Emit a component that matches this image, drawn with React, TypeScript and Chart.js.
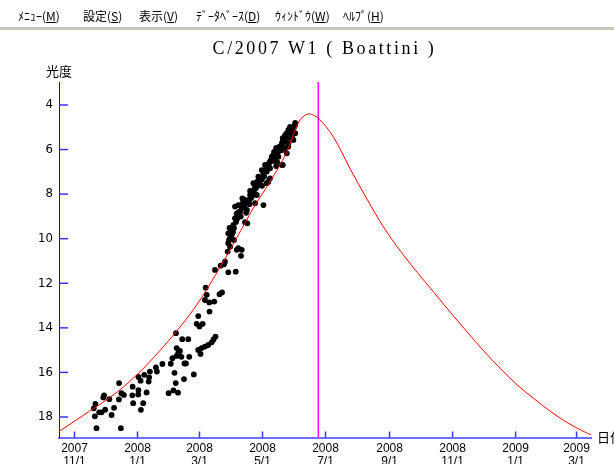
import React, { useEffect, useRef } from "react";
import { Chart, registerables } from "chart.js";

Chart.register(...registerables);

// ---- text ----
const titleText = "C/2007 W1 ( Boattini )";
const yAxisLabel = "光度";
const xAxisLabel = "日付";
const menuNames = ["ﾒﾆｭｰ", "設定", "表示", "ﾃﾞｰﾀﾍﾞｰｽ", "ｳｨﾝﾄﾞｳ", "ﾍﾙﾌﾟ"];
const menuKeys = ["M", "S", "V", "D", "W", "H"];

// ---- axes (x = days since 2007-11-01, y = magnitude) ----
const xMin = -15;
const xMax = 500;
const yMin = 2.97;
const yMax = 18.92;
const xTickDays = [0, 61, 121, 182, 243, 305, 366, 427, 486];
const xTickYears = ["2007", "2008", "2008", "2008", "2008", "2008", "2008", "2009", "2009"];
const xTickDates = ["11/1", "1/1", "3/1", "5/1", "7/1", "9/1", "11/1", "1/1", "3/1"];
const yTickValues = [4, 6, 8, 10, 12, 14, 16, 18];
const perihelionDay = 236;

// ---- predicted light curve ----
const curveDays = [-15, 10, 41.5, 64.8, 81.7, 98.9, 115, 128, 144.1, 157.1, 173.1, 189.3, 205.5, 213.6, 218.4, 222.3, 227.1, 232, 236.2, 250.7, 266.9, 283.1, 299.2, 315.4, 331.6, 347.7, 363.8, 380.0, 396.1, 412.3, 428.5, 444.6, 460.8, 477.0, 496.4, 500];
const curveMags = [18.65, 17.88, 16.87, 15.91, 15.07, 14.15, 13.19, 12.28, 11.03, 9.96, 8.63, 7.44, 6.10, 5.12, 4.67, 4.49, 4.40, 4.47, 4.60, 5.44, 6.87, 8.22, 9.48, 10.55, 11.50, 12.40, 13.30, 14.18, 15.03, 15.83, 16.56, 17.17, 17.75, 18.25, 18.73, 18.80];

// ---- observations ----
const obsDays = [
  21.3, 44.9, 19.7, 20.2, 18.7, 23.9, 26.2, 29.7, 35.9, 38.3,
  28.6, 27.9, 33.7, 43.0, 43.2, 45.4, 47.8, 56.3, 56.0, 56.8,
  61.9, 64.0, 61.9, 61.7, 67.5, 66.5, 64.3, 69.8, 71.8, 72.3,
  73.0, 78.8, 79.8, 85.1, 91.1, 95.8, 100.2, 98.0, 96.8, 93.2,
  94.8, 98.9, 100.4, 103.5, 106.5, 106.0, 115.5, 102.1, 98.9, 104.3,
  110.1, 98.2, 107.9, 111.1, 119.8, 122.0, 123.1, 126.3, 129.5, 132.8,
  134.6, 136.5, 119.8, 118.3, 121.0, 124.1, 130.7, 126.3, 128.0, 127.0,
  130.5, 135.3, 140.4, 142.8, 136.0, 141.5, 144.7, 148.9, 156.1, 148.3,
  150.6, 157.1, 161.9, 161.2, 145.7, 158.6, 148.9, 150.6, 148.9, 152.2,
  153.8, 150.1, 155.4, 157.1, 158.6, 155.4, 158.6, 161.9, 160.3, 160.9,
  165.1, 167.3, 162.5, 169.3, 174.8, 182.9, 176.5, 173.2, 174.8, 173.2,
  177.0, 179.7, 181.3, 178.0, 182.9, 181.3, 186.1, 189.3, 187.7, 189.3,
  192.5, 191.0, 192.5, 194.2, 197.4, 200.7, 187.7, 189.3, 186.1, 197.4,
  200.7, 200.7, 203.9, 201.6, 203.9, 205.5, 208.7, 207.1, 210.4, 213.6,
  210.4, 211.9, 207.1, 205.5, 203.9, 213.6, 201.6, 194.2, 183.6, 170.0,
  165.1, 167.0, 170.9, 184.5, 196.1, 198.1, 202.0, 208.2, 211.0, 166.1,
  154.4, 152.5, 164.1, 195.2, 208.7,
  149.6, 151.6, 153.5, 154.4, 156.4, 157.4, 159.3, 161.2, 163.2, 166.1,
  169.0, 171.9, 173.9, 175.8, 177.7, 178.7, 181.6, 183.6, 185.5, 187.4,
  188.4, 190.3, 192.3, 193.2, 196.1, 199.0, 200.9, 202.9, 204.8, 207.7,
  210.6, 212.6, 213.6, 206.8, 195.2, 181.6, 170.0, 164.2
];
const obsMags = [
  18.50, 18.50, 17.97, 17.41, 17.61, 17.79, 17.79, 17.67, 17.91, 17.59,
  17.03, 17.12, 17.20, 17.21, 16.48, 16.93, 17.01, 16.64, 17.03, 17.38,
  16.20, 16.37, 16.79, 16.99, 16.11, 17.38, 17.68, 16.90, 16.41, 16.22,
  15.96, 15.78, 15.96, 15.62, 16.93, 16.81, 16.91, 16.48, 16.02, 15.61,
  15.36, 15.26, 15.14, 15.30, 15.60, 16.30, 16.09, 15.04, 14.91, 14.51,
  14.51, 14.24, 15.60, 15.30, 14.99, 15.17, 14.91, 14.84, 14.77, 14.65,
  14.52, 14.39, 13.47, 13.82, 13.94, 13.82, 13.27, 12.75, 12.52, 12.20,
  12.86, 12.82, 12.49, 12.41, 11.40, 11.21, 11.15, 11.51, 11.48, 10.58,
  10.36, 10.50, 10.50, 10.77, 11.03, 10.43, 10.20, 9.98, 9.76, 9.61,
  9.38, 9.52, 9.08, 8.86, 8.93, 8.56, 8.49, 8.63, 8.79, 9.01,
  9.26, 9.31, 8.19, 8.45, 8.41, 8.49, 8.04, 7.89, 7.67, 7.51,
  7.44, 7.59, 7.36, 7.22, 7.06, 6.92, 6.99, 6.84, 6.69, 6.54,
  6.39, 6.32, 6.24, 6.17, 6.32, 6.69, 7.44, 7.29, 7.51, 6.09,
  6.02, 5.79, 5.65, 5.49, 5.35, 5.27, 5.20, 5.12, 5.05, 4.90,
  5.42, 5.57, 5.72, 6.17, 5.94, 5.27, 6.69, 6.47, 7.21, 8.04,
  8.26, 8.71, 8.17, 6.69, 6.56, 5.88, 5.61, 5.48, 5.21, 8.84,
  10.06, 9.79, 8.26, 5.93, 4.99,
  10.06, 9.88, 9.70, 9.52, 9.25, 9.11, 8.80, 8.49, 8.35, 8.40,
  8.26, 8.08, 7.81, 7.72, 7.59, 7.36, 7.23, 7.01, 6.87, 6.83,
  6.60, 6.47, 6.51, 6.11, 6.20, 5.93, 5.70, 5.48, 5.39, 5.30,
  5.12, 4.99, 4.81, 5.88, 6.74, 7.63, 7.86, 8.58
];

const innerTicks = {
  id: "innerTicks",
  afterDraw(chart: any) {
    const { ctx, chartArea, scales } = chart;
    ctx.save();
    ctx.strokeStyle = "#3535ff";
    ctx.lineWidth = 1.5;
    scales.y.ticks.forEach((t: any) => {
      const y = scales.y.getPixelForValue(t.value);
      ctx.beginPath();
      ctx.moveTo(chartArea.left, y);
      ctx.lineTo(chartArea.left + 9, y);
      ctx.stroke();
    });
    scales.x.ticks.forEach((t: any) => {
      const x = scales.x.getPixelForValue(t.value);
      ctx.beginPath();
      ctx.moveTo(x, chartArea.bottom);
      ctx.lineTo(x, chartArea.bottom - 6);
      ctx.stroke();
    });
    ctx.restore();
  },
};

export default function App() {
  const ref = useRef<HTMLCanvasElement | null>(null);

  useEffect(() => {
    if (!ref.current) return;
    const chart = new Chart(ref.current, {
      type: "scatter",
      data: {
        datasets: [
          {
            type: "line",
            label: "予報",
            data: curveDays.map((d, i) => ({ x: d, y: curveMags[i] })),
            borderColor: "#ff0000",
            borderWidth: 1,
            pointRadius: 0,
            pointHoverRadius: 0,
            cubicInterpolationMode: "monotone",
            fill: false,
            order: 0,
          } as any,
          {
            type: "line",
            label: "近日点",
            data: [
              { x: perihelionDay, y: yMin },
              { x: perihelionDay, y: yMax },
            ],
            borderColor: "#ff00ff",
            borderWidth: 1.5,
            pointRadius: 0,
            pointHoverRadius: 0,
            fill: false,
            order: 1,
          } as any,
          {
            type: "scatter",
            label: "観測",
            data: obsDays.map((d, i) => ({ x: d, y: obsMags[i] })),
            backgroundColor: "#000000",
            borderWidth: 0,
            pointRadius: 2.9,
            pointHoverRadius: 2.9,
            order: 2,
          } as any,
        ],
      },
      options: {
        animation: false,
        responsive: false,
        maintainAspectRatio: false,
        layout: { padding: { top: 82, right: 23, left: 0, bottom: 0 } },
        plugins: {
          legend: { display: false },
          tooltip: { enabled: false },
          title: { display: false },
        },
        scales: {
          x: {
            type: "linear",
            min: xMin,
            max: xMax,
            afterBuildTicks: (s: any) => {
              s.ticks = xTickDays.map((v) => ({ value: v }));
            },
            afterFit: (s: any) => {
              s.height = 26.5;
            },
            grid: { display: false, drawTicks: false },
            border: { display: true, color: "#6f6fff", width: 2 },
            ticks: {
              autoSkip: false,
              maxRotation: 0,
              minRotation: 0,
              padding: 5,
              color: "#000000",
              font: { family: "'Liberation Sans', Arial, sans-serif", size: 12, lineHeight: 1.05 },
              callback: (v: any) => {
                const i = xTickDays.indexOf(Number(v));
                return [xTickYears[i], xTickDates[i]];
              },
            },
          },
          y: {
            type: "linear",
            reverse: true,
            min: yMin,
            max: yMax,
            afterBuildTicks: (s: any) => {
              s.ticks = yTickValues.map((v) => ({ value: v }));
            },
            afterFit: (s: any) => {
              s.width = 59;
            },
            grid: { display: false, drawTicks: false },
            border: { display: true, color: "#0000ff", width: 1 },
            ticks: {
              padding: 6,
              color: "#000000",
              font: { family: "'Liberation Sans Narrow', 'DejaVu Sans Condensed', sans-serif", size: 13 },
              callback: (v: any) => String(v),
            },
          },
        },
      },
      plugins: [innerTicks],
    });
    return () => chart.destroy();
  }, []);

  return (
    <div
      style={{
        position: "fixed",
        left: 0,
        top: 0,
        width: 614,
        height: 464,
        background: "#ffffff",
        overflow: "hidden",
      }}
    >
      <canvas
        ref={ref}
        width={614}
        height={464}
        style={{ position: "absolute", left: 0, top: 0, width: 614, height: 464 }}
      />
      {menuNames.map((name, i) => (
        <span
          key={i}
          style={{
            position: "absolute",
            left: [18, 83, 139, 196, 275, 343][i],
            top: 9,
            fontFamily: "'Noto Sans CJK JP', sans-serif",
            fontSize: 12,
            lineHeight: "14px",
            color: "#000",
            whiteSpace: "nowrap",
          }}
        >
          {name}(<u>{menuKeys[i]}</u>)
        </span>
      ))}
      <div
        style={{
          position: "absolute",
          left: 0,
          top: 27,
          width: 614,
          height: 3,
          background: "#c9c5bb",
        }}
      />
      <div
        style={{
          position: "absolute",
          left: 0,
          width: 649,
          top: 39,
          textAlign: "center",
          fontFamily: "'Liberation Serif', serif",
          fontSize: 18,
          lineHeight: "18px",
          letterSpacing: "2.6px",
          color: "#000",
          whiteSpace: "nowrap",
        }}
      >
        {titleText}
      </div>
      <div
        style={{
          position: "absolute",
          left: 46,
          top: 63,
          fontFamily: "'Noto Sans CJK JP', sans-serif",
          fontSize: 13,
          lineHeight: "16px",
          color: "#000",
        }}
      >
        {yAxisLabel}
      </div>
      <div
        style={{
          position: "absolute",
          left: 597,
          top: 429,
          fontFamily: "'Noto Sans CJK JP', sans-serif",
          fontSize: 13,
          lineHeight: "16px",
          color: "#000",
          whiteSpace: "nowrap",
        }}
      >
        {xAxisLabel}
      </div>
    </div>
  );
}
